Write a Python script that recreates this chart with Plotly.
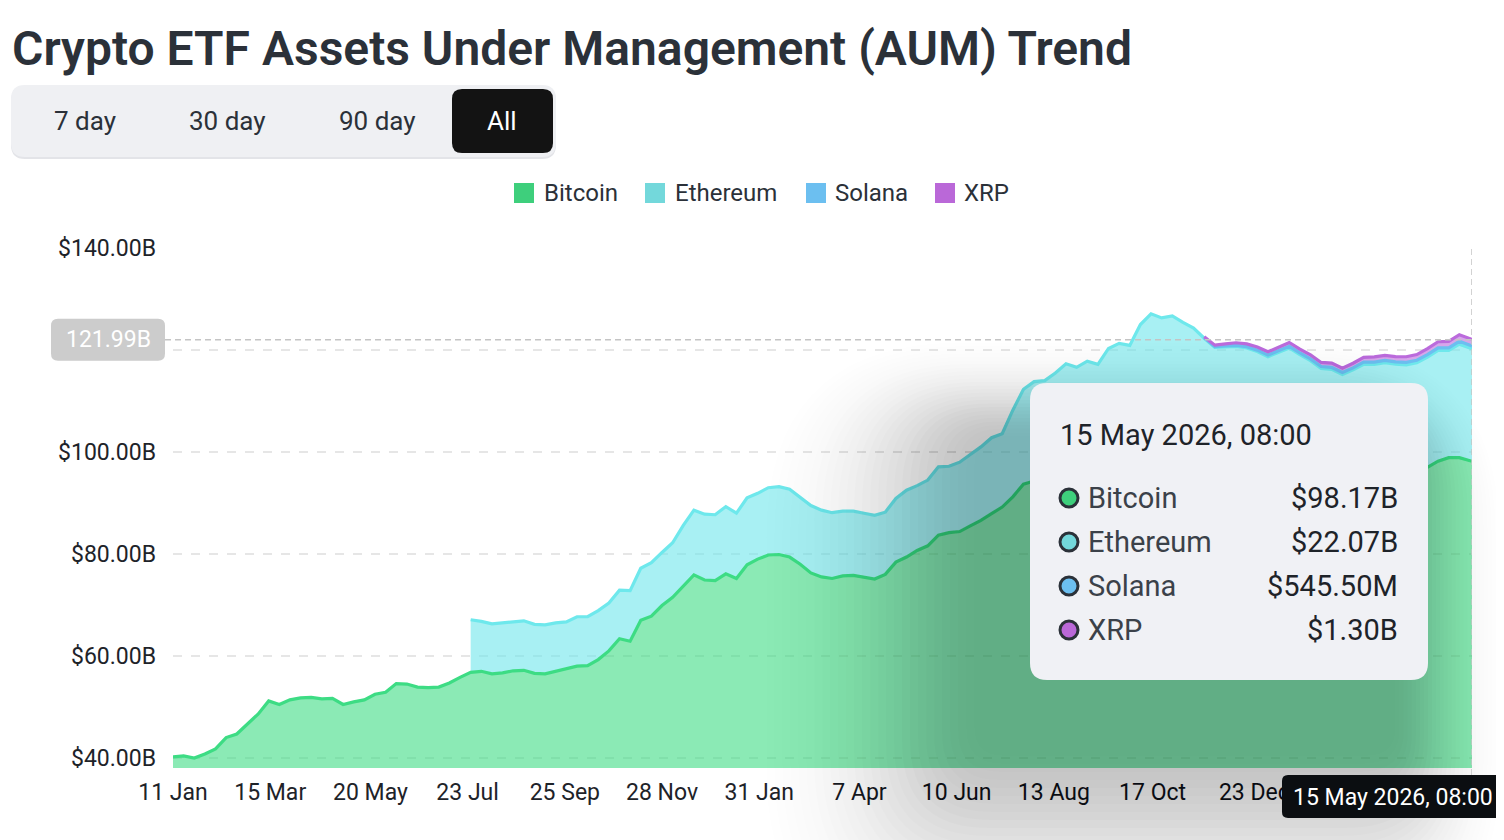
import math

import pandas as pd
import plotly.graph_objects as go

FONT = "Roboto"
TITLE = "Crypto ETF Assets Under Management (AUM) Trend"
RANGE_BUTTONS = ["7 day", "30 day", "90 day", "All"]

# weekly samples, last point is the 15 May 2026 08:00 print
DATES = list(pd.date_range("2024-01-11", periods=122, freq="7D")) + [pd.Timestamp("2026-05-15 08:00")]

# AUM in $B
BTC = [40.2, 40.4, 40.0, 40.8, 41.8, 44.0, 44.7, 46.7, 48.6, 51.2,
       50.5, 51.4, 51.8, 51.9, 51.6, 51.7, 50.5, 51.0, 51.4, 52.5,
       52.9, 54.6, 54.5, 53.9, 53.8, 53.9, 54.7, 55.8, 56.8, 57.0,
       56.5, 56.7, 57.1, 57.2, 56.6, 56.5, 57.0, 57.4, 58.0, 58.1,
       59.3, 61.0, 63.4, 62.9, 67.0, 67.8, 69.9, 71.5, 73.6, 75.9,
       74.9, 74.8, 76.1, 75.2, 77.9, 79.0, 79.8, 79.9, 79.4, 78.0,
       76.3, 75.5, 75.2, 75.7, 75.8, 75.4, 75.1, 76.0, 78.4, 79.4,
       80.7, 81.6, 83.7, 84.2, 84.4, 85.5, 86.6, 87.9, 89.2, 91.2,
       93.7, 94.3, 94.0, 94.5, 94.8, 93.8, 94.3, 94.0, 95.8, 96.3,
       96.3, 99.5, 101.1, 100.5, 101.1, 100.4, 100.0, 99.1, 98.0, 98.2,
       98.1, 98.0, 97.7, 97.2, 97.6, 97.8, 97.1, 96.5, 95.6, 95.5,
       94.9, 95.5, 96.2, 96.2, 96.3, 96.2, 96.1, 96.3, 97.0, 98.2,
       98.9, 98.9, 98.17]
ETH = [None] * 28 + [
       10.3, 9.8,
       9.8, 9.8, 9.7, 9.7, 9.6, 9.6, 9.5, 9.3, 9.7, 9.6,
       9.6, 9.4, 9.5, 9.9, 10.2, 10.5, 10.4, 10.7, 12.0, 12.7,
       12.9, 12.9, 13.2, 12.8, 13.1, 12.9, 13.2, 13.3, 13.3, 13.0,
       13.2, 13.1, 12.9, 12.7, 12.6, 12.6, 12.5, 12.2, 12.5, 13.1,
       12.7, 12.9, 13.4, 13.0, 13.6, 14.0, 14.4, 14.9, 14.4, 17.0,
       18.6, 19.5, 20.0, 21.0, 22.5, 22.8, 23.5, 23.2, 24.5, 25.0,
       24.6, 25.5, 26.0, 25.8, 25.6, 25.0, 24.3, 23.2, 22.5, 22.4,
       22.6, 22.4, 22.0, 21.5, 22.0, 22.6, 22.0, 21.4, 20.8, 20.7,
       20.3, 20.6, 21.0, 21.0, 21.2, 21.0, 21.0, 21.2, 21.6, 21.7,
       21.0, 22.25, 22.07]
SOL = [None] * 97 + [
       0.10, 0.15, 0.20, 0.22, 0.25, 0.27, 0.30, 0.32, 0.33, 0.34,
       0.35, 0.36, 0.38, 0.38, 0.40, 0.42, 0.44, 0.45, 0.46, 0.48,
       0.50, 0.51, 0.52, 0.53, 0.55, 0.5455]
XRP = [None] * 97 + [
       0.20, 0.30, 0.40, 0.50, 0.55, 0.60, 0.65, 0.70, 0.75, 0.75,
       0.80, 0.80, 0.85, 0.85, 0.90, 0.95, 1.00, 1.00, 1.05, 1.10,
       1.10, 1.15, 1.20, 1.25, 1.30, 1.30]

SERIES = ["Bitcoin", "Ethereum", "Solana", "XRP"]
VALUES = [BTC, ETH, SOL, XRP]

X_TICKS = ["2024-01-11", "2024-03-15", "2024-05-20", "2024-07-23", "2024-09-25", "2024-11-28",
           "2025-01-31", "2025-04-07", "2025-06-10", "2025-08-13", "2025-10-17", "2025-12-23"]
X_LABELS = ["11 Jan", "15 Mar", "20 May", "23 Jul", "25 Sep", "28 Nov",
            "31 Jan", "7 Apr", "10 Jun", "13 Aug", "17 Oct", "23 Dec"]
Y_TICKS = [40, 60, 80, 100, 120, 140]
Y_RANGE = [38.04, 140]
CROSS_Y = 121.99
STAMP = "15 May 2026, 08:00"

LINE = {"Bitcoin": "#3ddc84", "Ethereum": "#6ee8ec", "Solana": "#6cbff0", "XRP": "#bb6bdc"}
FILL = {"Bitcoin": "rgba(61,220,132,0.6)", "Ethereum": "rgba(110,230,235,0.6)",
        "Solana": "rgba(108,191,240,0.6)", "XRP": "rgba(187,107,220,0.6)"}
KEY = {"Bitcoin": "#3ecf7c", "Ethereum": "#73d8db", "Solana": "#6cbff0", "XRP": "#ba68d8"}

# page has an 8px body margin, so the figure is 8px smaller and all page pixels shift by 8
OFF = 8
W, H = 1504 - OFF, 840 - OFF
L, R, T, B = 173, 1472, 248, 768   # plot area, page pixels


def fx(x):
    return (x - L) / (R - L)


def fy(y):
    return (B - y) / (B - T)


def rrect(x0, y0, x1, y1, r, color, layer="above"):
    p = lambda x, y: f"{fx(x):.5f},{fy(y):.5f}"
    path = (f"M{p(x0 + r, y0)} L{p(x1 - r, y0)} Q{p(x1, y0)} {p(x1, y0 + r)} "
            f"L{p(x1, y1 - r)} Q{p(x1, y1)} {p(x1 - r, y1)} L{p(x0 + r, y1)} "
            f"Q{p(x0, y1)} {p(x0, y1 - r)} L{p(x0, y0 + r)} Q{p(x0, y0)} {p(x0 + r, y0)} Z")
    return dict(type="path", xref="paper", yref="paper", path=path, fillcolor=color,
                line=dict(width=0), layer=layer)


def text(x, y, s, size, color="#1e2329", xanchor="left", weight=None):
    f = dict(family=FONT, size=size, color=color)
    if weight:
        f["weight"] = weight
    return dict(x=fx(x), y=fy(y), xref="paper", yref="paper", text=s, showarrow=False,
                xanchor=xanchor, yanchor="middle", font=f)


def money(v):
    return f"${v * 1000:.2f}M" if v < 1 else f"${v:.2f}B"


fig = go.Figure()

# stacked areas: fills first, lines on top
n = len(DATES)
base = [0.0] * n
tops = []
for name, vals in zip(SERIES, VALUES):
    i0 = next(i for i, v in enumerate(vals) if v is not None)
    cum = [b + v if v is not None else None for b, v in zip(base, vals)]
    xs = DATES[i0:]
    if i0 == 0 and name == "Bitcoin":
        fig.add_trace(go.Scatter(x=xs, y=cum, mode="lines", line=dict(width=0), fill="tozeroy",
                                 fillcolor=FILL[name], hoverinfo="skip", showlegend=False))
    else:
        fig.add_trace(go.Scatter(x=xs, y=base[i0:], mode="lines", line=dict(width=0),
                                 hoverinfo="skip", showlegend=False))
        fig.add_trace(go.Scatter(x=xs, y=cum[i0:], mode="lines", line=dict(width=0), fill="tonexty",
                                 fillcolor=FILL[name], hoverinfo="skip", showlegend=False))
    tops.append((name, xs, cum[i0:]))
    base = [c if c is not None else b for c, b in zip(cum, base)]

for name, xs, ys in tops:
    fig.add_trace(go.Scatter(x=xs, y=ys, mode="lines", name=name, showlegend=False,
                             line=dict(color=LINE[name], width=3.2)))

shapes = []
ann = []

# legend row (square keys)
for name, kx, tx in zip(SERIES, [514, 645, 806, 935], [545, 676, 836, 965]):
    shapes.append(dict(type="rect", xref="paper", yref="paper", x0=fx(kx), x1=fx(kx + 20),
                       y0=fy(203), y1=fy(183), fillcolor=KEY[name], line=dict(width=0)))
    ann.append(text(tx - 3, 193, name, 24, "#2b3139"))

# soft tooltip shadow: translucent rings with a gaussian falloff, offset down-left
rings = list(range(8, 304, 8))
dark = lambda d: max(0.0, 0.22 * (math.exp(-(d / 125.0) ** 2) - math.exp(-(rings[-1] / 125.0) ** 2)))
for k in range(len(rings) - 1, -1, -1):
    e = rings[k]
    inner = dark(rings[k - 1]) if k > 0 else dark(0)
    outer = dark(e)
    a = 1 - (1 - inner) / (1 - outer)
    shapes.append(rrect(990 - e, 443 - 0.45 * e, 1388 + 0.5 * e, 740 + e, 16 + 0.8 * e,
                        f"rgba(0,0,0,{a:.4f})"))

# crosshair
cy = B - (CROSS_Y - Y_RANGE[0]) / (Y_RANGE[1] - Y_RANGE[0]) * (B - T)
shapes.append(dict(type="line", xref="paper", yref="y", x0=fx(165), x1=1, y0=CROSS_Y, y1=CROSS_Y,
                   line=dict(color="#c4c4c4", width=1.5, dash="6px,4px"), layer="above"))
shapes.append(dict(type="line", xref="x", yref="paper", x0=DATES[-1], x1=DATES[-1], y0=fy(775), y1=1,
                   line=dict(color="#c4c4c4", width=1.5, dash="6px,4px"), layer="above"))
shapes.append(rrect(51, cy - 21, 165, cy + 21, 7, "#cccccc"))
shapes.append(rrect(1282, 775, 1504, 818, 6, "#0b0e11"))

# range selector
shapes.append(rrect(11, 87, 556, 159, 14, "#e3e4e8"))
shapes.append(rrect(11, 85, 556, 157, 14, "#eff0f3"))
shapes.append(rrect(452, 89, 553, 153, 10, "#131313"))

# tooltip card
shapes.append(rrect(1030, 383, 1428, 680, 17, "#f0f1f5"))
row_y = [498, 542, 586, 630]
for name, ry in zip(SERIES, row_y):
    shapes.append(dict(type="circle", xref="paper", yref="paper", x0=fx(1060), x1=fx(1078),
                       y0=fy(ry + 9), y1=fy(ry - 9), fillcolor=KEY[name],
                       line=dict(color="#2b3139", width=3), layer="above"))

ann.append(text(10, 48, TITLE, 48, "#2b3139", weight=600))
for label, cx in zip(RANGE_BUTTONS, [85, 227, 377, 502]):
    ann.append(text(cx, 121, label, 26, "#ffffff" if label == "All" else "#2b3139", xanchor="center"))
ann.append(text(108, cy, f"{CROSS_Y:.2f}B", 23, "#ffffff", xanchor="center"))
ann.append(text(1393, 797, STAMP, 23, "#ffffff", xanchor="center"))
ann.append(text(1058, 435, STAMP, 29, "#1e2329"))
for name, vals, ry in zip(SERIES, VALUES, row_y):
    ann.append(text(1086, ry, name, 29, "#3b4149"))
    ann.append(text(1400, ry, money(vals[-1]), 29, "#1e2329", xanchor="right"))

fig.update_layout(
    width=W, height=H,
    margin=dict(l=L - OFF, r=W - (R - OFF), t=T - OFF, b=H - (B - OFF)),
    paper_bgcolor="white", plot_bgcolor="white",
    font=dict(family=FONT, color="#1e2329"),
    shapes=shapes, annotations=ann, showlegend=False,
)
fig.update_xaxes(type="date", range=[DATES[0], DATES[-1]], tickvals=X_TICKS, ticktext=X_LABELS,
                 showgrid=False, zeroline=False, showline=False, ticks="",
                 tickfont=dict(family=FONT, size=23, color="#1e2329"), ticklabelstandoff=8)
fig.update_yaxes(range=Y_RANGE, tickvals=Y_TICKS,
                 ticktext=["" if v == 120 else f"${v:.2f}B" for v in Y_TICKS],
                 showgrid=True, gridcolor="#e6e6e6", griddash="dash", gridwidth=1.5,
                 zeroline=False, showline=False, ticks="",
                 tickfont=dict(family=FONT, size=23, color="#1e2329"), ticklabelstandoff=16)

fig.write_html("out.html")
